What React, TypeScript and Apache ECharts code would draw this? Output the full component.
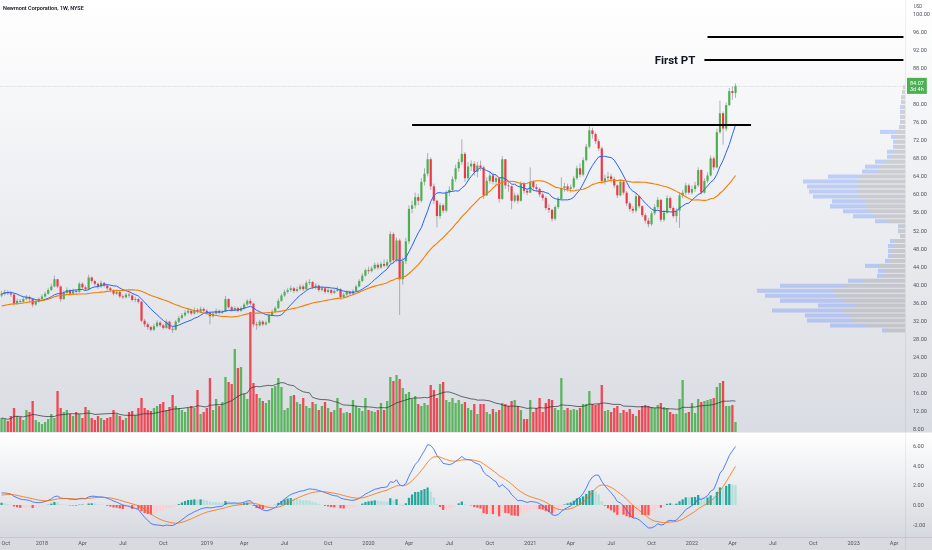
import React, { useEffect, useRef } from 'react';
import * as echarts from 'echarts';

// ---------- data (weekly, NEM, starting week of 2017-10-02) ----------
const warmupCloses = [33.6, 34.0, 33.8, 34.4, 34.8, 34.6, 33.8, 33.4, 33.0, 34.2, 34.4, 34.0, 35.2, 33.6, 33.2, 32.4, 33.0, 33.6, 34.2, 35.4, 36.0, 36.8, 37.4, 37.8, 38.4, 39.6, 39.2, 38.2, 37.6];

const closes2017 = [38.0, 38.4, 38.1, 37.8, 35.8, 36.4, 36.2, 36.8, 37.2, 36.8, 35.6, 36.2, 36.8];
const highs2017 = [38.6, 38.9, 38.8, 38.5, 38.0, 36.9, 36.8, 37.3, 37.7, 37.6, 37.0, 36.6, 37.2];
const lows2017 = [37.2, 37.6, 37.7, 37.3, 35.4, 35.5, 35.8, 35.9, 36.5, 36.3, 35.0, 35.3, 36.0];
const volumes2017 = [28, 26, 22, 32, 48, 32, 30, 24, 44, 40, 62, 24, 20];

const closes2018 = [37.4, 38.0, 38.8, 39.6, 41.2, 39.6, 36.8, 38.2, 38.8, 38.0, 38.6, 38.4, 40.2, 39.4, 39.0, 41.6, 40.8, 40.2, 39.6, 40.4, 39.8, 39.2, 38.8, 38.0, 38.4, 37.4, 37.2, 37.8, 37.6, 36.6, 36.8, 36.2, 32.0, 31.2, 30.6, 30.0, 30.8, 31.6, 31.0, 30.4, 31.8, 30.2, 30.0, 31.8, 32.6, 33.2, 33.8, 34.2, 33.6, 34.4, 34.0, 34.6, 34.2];
const highs2018 = [37.9, 38.4, 39.3, 40.2, 42.0, 41.3, 39.8, 38.7, 39.4, 39.0, 39.1, 39.0, 40.6, 40.5, 39.8, 42.2, 41.8, 41.0, 40.5, 40.9, 40.6, 40.0, 39.5, 39.0, 38.9, 38.6, 37.8, 38.2, 38.3, 37.8, 37.3, 37.0, 36.4, 32.4, 31.6, 30.9, 31.3, 32.1, 31.9, 31.3, 32.3, 32.0, 30.8, 32.2, 33.1, 33.7, 34.3, 34.8, 34.5, 34.9, 34.8, 35.1, 35.0];
const lows2018 = [36.5, 37.1, 37.8, 38.6, 39.4, 39.2, 36.2, 36.6, 37.9, 37.6, 37.7, 37.9, 38.2, 39.0, 38.6, 38.8, 40.3, 39.7, 39.1, 39.3, 39.4, 38.8, 38.3, 37.6, 37.7, 37.0, 36.8, 36.9, 37.1, 36.3, 36.1, 35.8, 31.6, 30.6, 30.0, 29.6, 29.7, 30.5, 30.6, 30.0, 30.2, 29.9, 29.3, 29.8, 31.5, 32.3, 32.9, 33.5, 33.2, 33.4, 33.6, 33.8, 33.8];
const volumes2018 = [16, 20, 26, 36, 28, 82, 48, 40, 44, 36, 32, 40, 36, 28, 50, 44, 28, 24, 32, 28, 24, 28, 30, 44, 36, 32, 24, 28, 40, 42, 34, 48, 68, 48, 44, 42, 48, 52, 56, 60, 44, 50, 74, 52, 48, 44, 40, 48, 52, 48, 84, 36, 40];

const closes2019 = [33.8, 33.0, 33.6, 34.2, 33.8, 34.0, 36.8, 35.0, 34.4, 34.8, 34.2, 34.8, 35.6, 36.4, 35.8, 31.2, 31.0, 31.8, 31.2, 31.6, 33.2, 34.0, 34.8, 36.4, 37.6, 38.4, 38.8, 39.2, 38.6, 39.0, 39.6, 39.0, 40.4, 40.6, 39.4, 39.8, 38.8, 39.2, 38.4, 38.8, 38.2, 38.6, 39.0, 37.2, 37.8, 38.4, 38.0, 38.6, 39.6, 40.8, 42.0, 43.2];
const highs2019 = [34.6, 34.0, 34.0, 34.7, 34.5, 34.4, 37.5, 37.0, 35.3, 35.2, 35.1, 35.2, 36.0, 36.8, 36.9, 36.0, 31.8, 32.2, 32.1, 32.0, 33.6, 34.5, 35.2, 36.9, 38.0, 38.9, 39.3, 39.8, 39.5, 39.5, 40.1, 40.0, 40.9, 41.2, 40.8, 40.3, 40.0, 39.7, 39.4, 39.3, 39.0, 39.1, 39.6, 39.2, 38.2, 38.8, 38.7, 39.0, 40.0, 41.2, 42.5, 43.6];
const lows2019 = [33.3, 31.2, 32.7, 33.4, 33.4, 33.5, 33.9, 34.7, 34.0, 34.1, 33.9, 34.0, 34.5, 35.3, 35.4, 30.6, 30.0, 30.7, 30.8, 30.9, 31.4, 33.0, 33.8, 34.6, 36.2, 37.3, 38.0, 38.4, 38.2, 38.3, 38.7, 38.6, 38.8, 39.9, 39.0, 39.0, 38.4, 38.5, 38.0, 38.1, 37.8, 37.9, 38.4, 36.7, 37.0, 37.5, 37.6, 37.7, 38.4, 39.4, 40.6, 41.8];
const volumes2019 = [48, 108, 44, 66, 52, 60, 110, 100, 96, 166, 128, 130, 76, 66, 240, 98, 76, 68, 62, 58, 64, 88, 92, 108, 90, 44, 48, 72, 74, 60, 56, 68, 52, 48, 60, 56, 44, 52, 60, 48, 40, 44, 68, 48, 38, 40, 38, 64, 52, 48, 42, 68];

const closes2020 = [43.0, 43.6, 44.4, 43.8, 44.6, 44.2, 45.0, 51.2, 45.4, 49.8, 41.2, 45.2, 49.6, 56.8, 57.6, 59.4, 58.6, 62.8, 64.6, 67.8, 61.8, 58.6, 55.2, 57.6, 56.4, 60.4, 61.0, 63.4, 65.8, 67.2, 69.0, 63.6, 66.2, 66.8, 65.0, 66.4, 66.0, 59.8, 63.0, 64.2, 62.8, 63.6, 59.0, 67.8, 62.0, 61.8, 58.6, 59.8, 58.6, 62.4, 60.8, 60.4];
const highs2020 = [44.0, 44.1, 44.9, 44.9, 45.1, 45.6, 45.6, 51.8, 51.6, 50.4, 50.2, 46.0, 50.4, 57.6, 58.6, 60.4, 60.2, 63.6, 65.8, 69.2, 68.2, 62.4, 58.8, 58.2, 58.0, 60.9, 61.8, 64.0, 66.6, 67.9, 72.2, 69.4, 67.2, 67.6, 67.4, 67.2, 67.5, 66.4, 63.8, 65.2, 64.9, 64.2, 63.8, 68.5, 66.0, 62.8, 62.0, 60.4, 60.2, 62.9, 62.8, 61.4];
const lows2020 = [42.4, 42.7, 43.3, 43.3, 43.5, 43.8, 43.7, 44.6, 44.8, 45.0, 33.3, 40.0, 44.6, 49.0, 55.8, 56.9, 57.6, 58.2, 62.0, 64.0, 61.0, 57.8, 52.7, 54.6, 55.8, 56.0, 59.6, 60.6, 62.8, 65.0, 66.6, 62.8, 63.0, 65.2, 64.2, 63.8, 65.2, 59.0, 59.6, 62.4, 62.2, 61.9, 58.2, 58.8, 61.2, 60.6, 56.7, 58.2, 58.0, 58.4, 60.2, 59.8];
const volumes2020 = [44, 42, 40, 44, 58, 44, 62, 110, 102, 114, 106, 88, 76, 80, 66, 72, 56, 52, 58, 54, 94, 84, 68, 96, 100, 64, 60, 68, 58, 64, 56, 60, 48, 44, 56, 36, 56, 56, 40, 36, 46, 40, 44, 58, 56, 52, 62, 64, 52, 44, 26, 26];

const closes2021 = [62.8, 61.6, 61.2, 60.0, 59.2, 57.0, 56.6, 54.6, 57.2, 59.0, 61.4, 61.8, 61.2, 61.6, 63.6, 65.8, 64.4, 67.6, 70.6, 74.2, 73.4, 71.8, 70.2, 63.0, 63.6, 64.0, 63.4, 62.0, 59.8, 62.8, 60.4, 58.0, 56.8, 56.4, 59.6, 57.4, 55.4, 54.2, 53.4, 55.8, 57.2, 58.8, 54.4, 56.0, 59.2, 57.0, 55.2, 56.4, 59.8, 60.4, 62.0, 60.4];
const highs2021 = [66.0, 63.2, 62.3, 61.6, 60.6, 59.6, 57.8, 56.8, 57.6, 59.5, 63.8, 62.6, 62.4, 62.2, 64.1, 66.4, 66.9, 68.2, 71.2, 75.3, 74.8, 73.8, 72.2, 70.6, 64.4, 65.0, 64.6, 63.9, 62.2, 63.4, 63.2, 60.8, 58.4, 57.4, 60.2, 59.8, 57.6, 55.8, 54.8, 56.3, 57.8, 59.4, 59.0, 56.6, 59.8, 59.6, 57.3, 56.9, 60.4, 61.0, 62.6, 62.4];
const lows2021 = [60.3, 60.9, 60.5, 59.4, 58.6, 56.5, 55.9, 54.0, 54.2, 56.8, 58.8, 60.6, 60.6, 60.4, 61.2, 63.2, 63.8, 64.0, 67.3, 70.2, 72.4, 71.2, 69.6, 62.4, 62.2, 62.9, 62.6, 61.4, 59.2, 59.6, 59.9, 57.4, 56.2, 55.8, 56.0, 56.9, 55.0, 53.6, 52.7, 53.0, 55.4, 56.8, 53.9, 54.0, 55.6, 56.6, 54.8, 53.8, 52.6, 59.2, 59.8, 60.0];
const volumes2021 = [64, 40, 48, 68, 40, 58, 66, 64, 48, 44, 108, 44, 48, 44, 46, 44, 48, 56, 56, 82, 56, 54, 56, 94, 42, 44, 40, 48, 52, 38, 44, 40, 46, 36, 32, 44, 52, 54, 52, 50, 48, 54, 58, 50, 48, 40, 36, 36, 66, 104, 38, 40];

const closes2022 = [61.2, 62.0, 65.4, 60.4, 63.0, 64.2, 68.0, 66.0, 73.8, 78.0, 74.6, 79.8, 82.9, 82.5, 84.07];
const highs2022 = [62.0, 62.8, 66.0, 65.6, 63.6, 64.9, 68.6, 68.4, 74.6, 80.8, 78.4, 80.4, 83.6, 84.0, 84.6];
const lows2022 = [60.0, 60.6, 61.6, 60.0, 60.2, 62.6, 64.0, 65.4, 65.8, 73.4, 71.0, 74.0, 79.6, 81.0, 81.4];
const volumes2022 = [58, 38, 66, 60, 62, 64, 66, 68, 90, 98, 102, 52, 52, 54, 20];

// volume profile (visible range), rows of 1.1 from 29.3
const profileBase = 29.3;
const profileStep = 1.1;
const profileTotal = [23, 75, 98, 100, 133, 87, 125, 140, 148, 125, 57, 28, 27, 40, 20, 17, 17, 17, 15, 5, 7, 7, 30, 52, 62, 75, 73, 92, 96, 98, 102, 77, 43, 40, 30, 18, 18, 12, 12, 14, 25, 6, 5, 5, 5, 5, 4, 4, 3, 2];
const profileDown = [20, 40, 52, 55, 62, 50, 62, 70, 71, 60, 42, 22, 20, 25, 15, 13, 13, 12, 12, 5, 6, 6, 18, 30, 35, 40, 40, 45, 48, 48, 48, 45, 28, 25, 20, 14, 12, 10, 9, 10, 10, 5, 4, 5, 4, 4, 3, 3, 3, 2];

// drawn levels
const levelLines = [
  { from: '2020-04-13', to: '2022-05-16', price: 75.5, label: '' },
  { from: '2022-01-31', to: '2023-04-24', price: 89.8, label: 'First PT' },
  { from: '2022-02-07', to: '2023-04-24', price: 94.9, label: '' },
];
const countdownText = '3d 4h';

// axis ticks
const quarterLabels: Record<number, string> = { 3: 'Apr', 6: 'Jul', 9: 'Oct' };
const priceAxis = { min: 4, max: 104, interval: 4, shownMin: 8, shownMax: 100 };
const macdAxis = { min: -4, max: 8, interval: 2, shownMin: -2, shownMax: 6 };
const volumeAxisMax = 264;
const profileAxisMax = 165;

// ---------- derived ----------
const closes = [...closes2017, ...closes2018, ...closes2019, ...closes2020, ...closes2021, ...closes2022];
const highs = [...highs2017, ...highs2018, ...highs2019, ...highs2020, ...highs2021, ...highs2022];
const lows = [...lows2017, ...lows2018, ...lows2019, ...lows2020, ...lows2021, ...lows2022];
const volumes = [...volumes2017, ...volumes2018, ...volumes2019, ...volumes2020, ...volumes2021, ...volumes2022];
const opens = closes.map((c, i) => (i === 0 ? warmupCloses[warmupCloses.length - 1] : closes[i - 1]));

const WEEKS = 291;
const START = Date.UTC(2017, 9, 2);
const categories = Array.from({ length: WEEKS }, (_, i) => new Date(START + i * 7 * 86400000).toISOString().slice(0, 10));

const allCloses = [...warmupCloses, ...closes];
const W = warmupCloses.length;
function sma(arr: number[], n: number) {
  return closes.map((_, i) => {
    const j = i + W;
    const s = arr.slice(Math.max(0, j - n + 1), j + 1);
    return +(s.reduce((a, b) => a + b, 0) / s.length).toFixed(3);
  });
}
function ema(arr: number[], n: number) {
  const k = 2 / (n + 1);
  const out: number[] = [];
  let e = arr[0];
  arr.forEach((v, i) => {
    e = i === 0 ? v : v * k + e * (1 - k);
    out.push(e);
  });
  return out;
}
const ma10 = sma(allCloses, 10);
const ma30 = sma(allCloses, 30);
const e12 = ema(allCloses, 12);
const e26 = ema(allCloses, 26);
const macdAll = e12.map((v, i) => v - e26[i]);
const sigAll = ema(macdAll, 9);
const macd = macdAll.slice(W);
const signal = sigAll.slice(W);
const hist = macd.map((v, i) => v - signal[i]);
const volMA = volumes.map((_, i) => {
  const s = volumes.slice(Math.max(0, i - 19), i + 1);
  return s.reduce((a, b) => a + b, 0) / s.length;
});

const UP = '#4caf50';
const DOWN = '#f23645';
const lastClose = closes[closes.length - 1];

const candleData = closes.map((c, i) => [i, opens[i], c, lows[i], highs[i]]);
const volumeData = volumes.map((v, i) => ({ value: v, itemStyle: { color: closes[i] >= opens[i] ? UP : DOWN, opacity: 0.9 } }));
const histData = hist.map((h, i) => {
  const p = i > 0 ? hist[i - 1] : h;
  const color = h >= 0 ? (h >= p ? '#26a69a' : '#b2dfdb') : h < p ? '#ff5252' : '#ffcdd2';
  return { value: +h.toFixed(4), itemStyle: { color } };
});
const profileData = profileTotal.map((t, i) => [t, profileDown[i], profileBase + i * profileStep, profileBase + (i + 1) * profileStep]);

// layout
const PRICE_TOP = 14 + (100 - priceAxis.max) * 4.511;
const PRICE_H = (priceAxis.max - priceAxis.min) * 4.511;
const MACD_PX = 9.8;
const MACD_TOP = 505 - macdAxis.max * MACD_PX;
const MACD_H = (macdAxis.max - macdAxis.min) * MACD_PX;
const AXIS_COLOR = '#50535e';
const FONT = 'Roboto, "Liberation Sans", sans-serif';

const markLineData: any[] = levelLines.map((l) => [
  {
    coord: [l.from, l.price],
    lineStyle: { color: '#000', width: 2, type: 'solid' },
    label: l.label
      ? { show: true, position: 'start', formatter: l.label, fontSize: 11.5, fontWeight: 'bold', color: '#131722', distance: 9, fontFamily: FONT }
      : { show: false },
  },
  { coord: [l.to, l.price] },
]);
markLineData.push({
  yAxis: lastClose,
  lineStyle: { color: '#c3c5cc', width: 0.6, type: 'dotted' },
  label: {
    show: true,
    position: 'end',
    distance: 2,
    formatter: `${lastClose.toFixed(2)}\n${countdownText}`,
    backgroundColor: '#4caf50',
    color: '#fff',
    fontSize: 5.5,
    lineHeight: 6.5,
    padding: [1.5, 3],
    fontFamily: FONT,
  },
});

const hiddenX = (gridIndex: number) => ({ type: 'category', gridIndex, data: categories, show: false, boundaryGap: true });

const option: any = {
  animation: false,
  textStyle: { fontFamily: FONT },
  graphic: [
    {
      type: 'rect', z: -100, silent: true, shape: { x: 0, y: 0, width: 932, height: 432 },
      style: { fill: { type: 'linear', x: 0, y: 0, x2: 0, y2: 1, colorStops: [{ offset: 0, color: '#ffffff' }, { offset: 0.45, color: '#eeeff2' }, { offset: 1, color: '#d9dce2' }] } },
    },
    {
      type: 'rect', z: -100, silent: true, shape: { x: 0, y: 432, width: 932, height: 105 },
      style: { fill: { type: 'linear', x: 0, y: 0, x2: 0, y2: 1, colorStops: [{ offset: 0, color: '#ffffff' }, { offset: 1, color: '#d6d9df' }] } },
    },
    { type: 'rect', z: -100, silent: true, shape: { x: 0, y: 537, width: 932, height: 13 }, style: { fill: '#d8dadf' } },
    { type: 'line', z: -90, silent: true, shape: { x1: 0, y1: 432.5, x2: 932, y2: 432.5 }, style: { stroke: 'rgba(0,0,0,0.07)', lineWidth: 1 } },
    { type: 'line', z: -90, silent: true, shape: { x1: 0, y1: 537.5, x2: 932, y2: 537.5 }, style: { stroke: 'rgba(0,0,0,0.08)', lineWidth: 1 } },
    { type: 'line', z: -90, silent: true, shape: { x1: 905.5, y1: 0, x2: 905.5, y2: 550 }, style: { stroke: 'rgba(0,0,0,0.06)', lineWidth: 1 } },
    {
      type: 'text', z: 50, x: 3, y: 8,
      style: { text: 'Newmont Corporation, 1W, NYSE', fill: '#131722', fontSize: 5.5, fontWeight: 600, fontFamily: FONT, verticalAlign: 'middle', align: 'left' },
    },
    {
      type: 'text', z: 50, x: 918, y: 6,
      style: { text: 'USD', fill: AXIS_COLOR, fontSize: 4.5, fontFamily: FONT, verticalAlign: 'middle', align: 'center' },
    },
  ],
  grid: [
    { left: 0, right: 27, top: PRICE_TOP, height: PRICE_H, outerBoundsMode: 'none', containLabel: false },
    { left: 0, right: 27, top: 300, height: 132, outerBoundsMode: 'none', containLabel: false },
    { left: 0, right: 27, top: MACD_TOP, height: MACD_H, outerBoundsMode: 'none', containLabel: false },
    { left: 0, right: 27, top: 537, height: 1, outerBoundsMode: 'none', containLabel: false },
    { left: 740, right: 27, top: PRICE_TOP, height: PRICE_H, outerBoundsMode: 'none', containLabel: false },
  ],
  xAxis: [
    hiddenX(0),
    hiddenX(1),
    hiddenX(2),
    {
      type: 'category', gridIndex: 3, data: categories, boundaryGap: true,
      axisLine: { show: false }, axisTick: { show: false }, splitLine: { show: false },
      axisLabel: {
        fontSize: 5.5, color: AXIS_COLOR, margin: 2, alignMinLabel: 'left',
        interval: (_: number, value: string) => {
          const d = new Date(value + 'T00:00:00Z');
          return d.getUTCMonth() % 3 === 0 && d.getUTCDate() <= 7;
        },
        formatter: (value: string) => {
          const d = new Date(value + 'T00:00:00Z');
          const m = d.getUTCMonth();
          return m === 0 ? String(d.getUTCFullYear()) : quarterLabels[m] || '';
        },
      },
    },
    { type: 'value', gridIndex: 4, min: 0, max: profileAxisMax, inverse: true, show: false },
  ],
  yAxis: [
    {
      type: 'value', gridIndex: 0, position: 'right', min: priceAxis.min, max: priceAxis.max, interval: priceAxis.interval,
      axisLine: { show: false }, axisTick: { show: false }, splitLine: { show: false },
      axisLabel: {
        fontSize: 5.5, color: AXIS_COLOR, margin: 8,
        formatter: (v: number) =>
          v < priceAxis.shownMin || v > priceAxis.shownMax || Math.abs(v - lastClose) < 2 ? '' : v.toFixed(2),
      },
    },
    { type: 'value', gridIndex: 1, min: 0, max: volumeAxisMax, show: false },
    {
      type: 'value', gridIndex: 2, position: 'right', min: macdAxis.min, max: macdAxis.max, interval: macdAxis.interval,
      axisLine: { show: false }, axisTick: { show: false }, splitLine: { show: false },
      axisLabel: {
        fontSize: 5.5, color: AXIS_COLOR, margin: 8,
        formatter: (v: number) => (v < macdAxis.shownMin || v > macdAxis.shownMax ? '' : v.toFixed(2)),
      },
    },
    { type: 'value', gridIndex: 3, show: false },
    { type: 'value', gridIndex: 4, min: priceAxis.min, max: priceAxis.max, show: false },
  ],
  series: [
    {
      type: 'bar', name: 'Volume', xAxisIndex: 1, yAxisIndex: 1, data: volumeData, barWidth: '74%', z: 1,
    },
    {
      type: 'line', name: 'Vol MA', xAxisIndex: 1, yAxisIndex: 1, data: volMA.map((v) => +v.toFixed(2)),
      showSymbol: false, lineStyle: { color: '#2a2e39', width: 0.7 }, z: 2,
    },
    {
      type: 'custom', name: 'NEM', xAxisIndex: 0, yAxisIndex: 0, z: 3, clip: true,
      encode: { x: 0, y: [1, 2, 3, 4] },
      data: candleData,
      renderItem: (_params: any, api: any) => {
        const i = api.value(0);
        const o = api.value(1);
        const c = api.value(2);
        const l = Math.min(api.value(3), o, c);
        const h = Math.max(api.value(4), o, c);
        const pO = api.coord([i, o]);
        const pC = api.coord([i, c]);
        const pL = api.coord([i, l]);
        const pH = api.coord([i, h]);
        const w = api.size([1, 0])[0] * 0.7;
        const top = Math.min(pO[1], pC[1]);
        const hh = Math.max(Math.abs(pO[1] - pC[1]), 0.7);
        return {
          type: 'group',
          children: [
            { type: 'line', shape: { x1: pH[0], y1: pH[1], x2: pL[0], y2: pL[1] }, style: { stroke: '#8f929b', lineWidth: 0.7 } },
            { type: 'rect', shape: { x: pO[0] - w / 2, y: top, width: w, height: hh }, style: { fill: c >= o ? UP : DOWN } },
          ],
        };
      },
    },
    {
      type: 'line', name: 'MA10', xAxisIndex: 0, yAxisIndex: 0, data: ma10, showSymbol: false, z: 4,
      lineStyle: { color: '#2962ff', width: 1 },
      markLine: { silent: true, symbol: ['none', 'none'], animation: false, data: markLineData },
    },
    {
      type: 'line', name: 'MA30', xAxisIndex: 0, yAxisIndex: 0, data: ma30, showSymbol: false, z: 4,
      lineStyle: { color: '#f57c00', width: 1.1 },
    },
    {
      type: 'bar', name: 'Histogram', xAxisIndex: 2, yAxisIndex: 2, data: histData, barWidth: '72%', z: 2,
    },
    {
      type: 'line', name: 'MACD', xAxisIndex: 2, yAxisIndex: 2, data: macd.map((v) => +v.toFixed(4)), showSymbol: false, z: 3,
      lineStyle: { color: '#2962ff', width: 0.8 },
    },
    {
      type: 'line', name: 'Signal', xAxisIndex: 2, yAxisIndex: 2, data: signal.map((v) => +v.toFixed(4)), showSymbol: false, z: 3,
      lineStyle: { color: '#ff6d00', width: 0.8 },
    },
    {
      type: 'custom', name: 'VPVR', xAxisIndex: 4, yAxisIndex: 4, z: 2, clip: true,
      encode: { x: [0, 1], y: [2, 3] },
      data: profileData,
      renderItem: (_params: any, api: any) => {
        const tot = api.value(0);
        const dn = api.value(1);
        const lo = api.value(2);
        const hi = api.value(3);
        const p0 = api.coord([0, hi]);
        const pD = api.coord([dn, lo]);
        const pT = api.coord([tot, lo]);
        const y = p0[1] + 0.4;
        const hgt = Math.max(pD[1] - p0[1] - 0.9, 0.5);
        return {
          type: 'group',
          children: [
            { type: 'rect', shape: { x: pD[0], y, width: p0[0] - pD[0], height: hgt }, style: { fill: 'rgba(120,123,134,0.3)' } },
            { type: 'rect', shape: { x: pT[0], y, width: pD[0] - pT[0], height: hgt }, style: { fill: 'rgba(41,98,255,0.25)' } },
          ],
        };
      },
    },
  ],
};

export default function App() {
  const ref = useRef<HTMLDivElement>(null);
  useEffect(() => {
    const chart = echarts.init(ref.current as HTMLDivElement, undefined, { renderer: 'svg' });
    chart.setOption(option);
    return () => chart.dispose();
  }, []);
  return <div ref={ref} style={{ position: 'fixed', left: 0, top: 0, width: 932, height: 550 }} />;
}
